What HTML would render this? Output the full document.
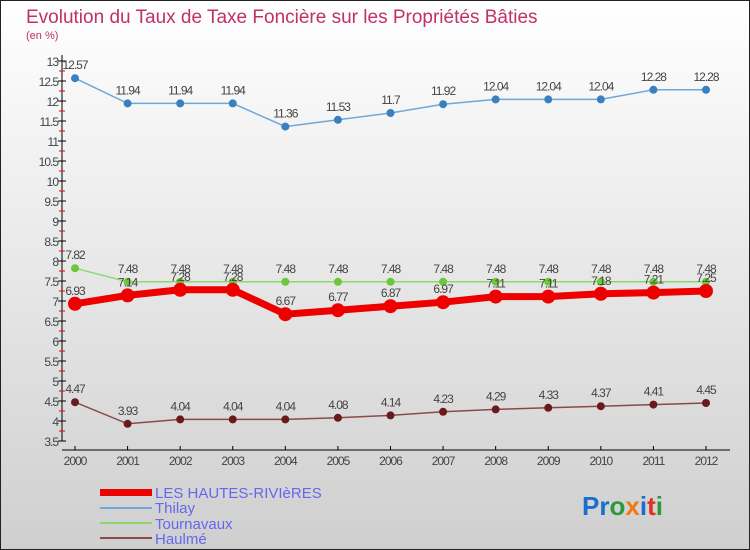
<!DOCTYPE html>
<html><head><meta charset="utf-8"><style>
body{margin:0}
svg{display:block;font-family:"Liberation Sans",sans-serif}
</style></head><body>
<svg id="c" width="750" height="550" xmlns="http://www.w3.org/2000/svg">
<defs><linearGradient id="bg" x1="0" y1="0" x2="0" y2="1"><stop offset="0" stop-color="#ffffff"/><stop offset="1" stop-color="#cfcfcf"/></linearGradient></defs>
<rect x="0.5" y="0.5" width="749" height="549" fill="url(#bg)" stroke="#222"/>
<text x="26" y="23" font-size="19" fill="#c0306a">Evolution du Taux de Taxe Foncière sur les Propriétés Bâties</text>
<text x="26" y="39" font-size="11" fill="#c0306a">(en %)</text>
<g id="axes"></g>
<g id="series"></g>
<g id="legend" font-size="15" fill="#6666ee">
<rect x="100" y="489" width="52" height="7" fill="#ee0000"/>
<text x="155" y="498">LES HAUTES-RIVIèRES</text>
<rect x="100" y="507" width="52" height="2" fill="#6fa8d8"/>
<text x="155" y="513">Thilay</text>
<rect x="100" y="522" width="52" height="2" fill="#8ed86a"/>
<text x="155" y="529">Tournavaux</text>
<rect x="100" y="537" width="52" height="2" fill="#8a4a4a"/>
<text x="155" y="544">Haulmé</text>
</g>
<text x="582" y="515" font-size="26" font-weight="bold"><tspan fill="#1a6fcc">Pr</tspan><tspan fill="#2a9a3a">o</tspan><tspan fill="#f07a10">x</tspan><tspan fill="#1a6fcc">i</tspan><tspan fill="#e03020">t</tspan><tspan fill="#2a9a3a">i</tspan></text>
</svg>
<script>
const years=[2000,2001,2002,2003,2004,2005,2006,2007,2008,2009,2010,2011,2012];
const hautes=[6.93,7.14,7.28,7.28,6.67,6.77,6.87,6.97,7.11,7.11,7.18,7.21,7.25];
const thilay=[12.57,11.94,11.94,11.94,11.36,11.53,11.7,11.92,12.04,12.04,12.04,12.28,12.28];
const tournavaux=[7.82,7.48,7.48,7.48,7.48,7.48,7.48,7.48,7.48,7.48,7.48,7.48,7.48];
const haulme=[4.47,3.93,4.04,4.04,4.04,4.08,4.14,4.23,4.29,4.33,4.37,4.41,4.45];
const yTicks=[3.5,4,4.5,5,5.5,6,6.5,7,7.5,8,8.5,9,9.5,10,10.5,11,11.5,12,12.5,13];
const NS="http://www.w3.org/2000/svg";
const x=i=>75+i*(706-75)/(years.length-1);
const y=v=>61+(13-v)*40;
function el(t,a,p){const e=document.createElementNS(NS,t);for(const k in a)e.setAttribute(k,a[k]);p.appendChild(e);return e;}
const ax=document.getElementById('axes');
let l=el('line',{x1:62,y1:55,x2:62,y2:441,stroke:'#000'},ax);


yTicks.forEach(v=>{
 const tk=el('line',{x1:58,x2:66,y1:y(v),y2:y(v),stroke:'#000'},ax);
 
 
 const m=el('line',{x1:59,x2:65,y1:y(v)+10,y2:y(v)+10,stroke:'#e00'},ax);
 if(v===3.5)m.remove();
 const t=el('text',{x:58,y:y(v)+5,'text-anchor':'end','font-size':12,fill:'#444','letter-spacing':'-1'},ax);
 t.textContent=String(v);
 
 
});
l=el('line',{x1:62,y1:450,x2:730,y2:450,stroke:'#000'},ax);


years.forEach((yr,i)=>{
 el('line',{x1:x(i),x2:x(i),y1:446,y2:450,stroke:'#000'},ax);
 const t=el('text',{x:x(i),y:465,'text-anchor':'middle','font-size':12,fill:'#444','letter-spacing':'-1'},ax);
 t.textContent=yr;
 
 
});
const sg=document.getElementById('series');
function draw(vals,name,col,dot,w,r){
 const g=el('g',{},sg);
 
 
 const p=el('polyline',{points:vals.map((v,i)=>x(i)+','+y(v)).join(' '),fill:'none',stroke:col,'stroke-width':w},g);
 
 
 vals.forEach((v,i)=>{
  const c=el('circle',{cx:x(i),cy:y(v),r:r,fill:dot},g);
  
  
  const t=el('text',{x:x(i),y:y(v)-9,'text-anchor':'middle','font-size':12,fill:'#444','letter-spacing':'-1'},g);
  t.textContent=String(v);
  
  
 });
}
draw(thilay,'thilay','#6fa8d8','#3a80c0',1.5,4);
draw(haulme,'haulme','#8a4a4a','#6a1a1a',1.5,4);
draw(tournavaux,'tournavaux','#8ed86a','#6ac83a',1.5,4);
draw(hautes,'les-hautes-rivieres','#ee0000','#ee0000',7,7);
</script>
</body></html>
